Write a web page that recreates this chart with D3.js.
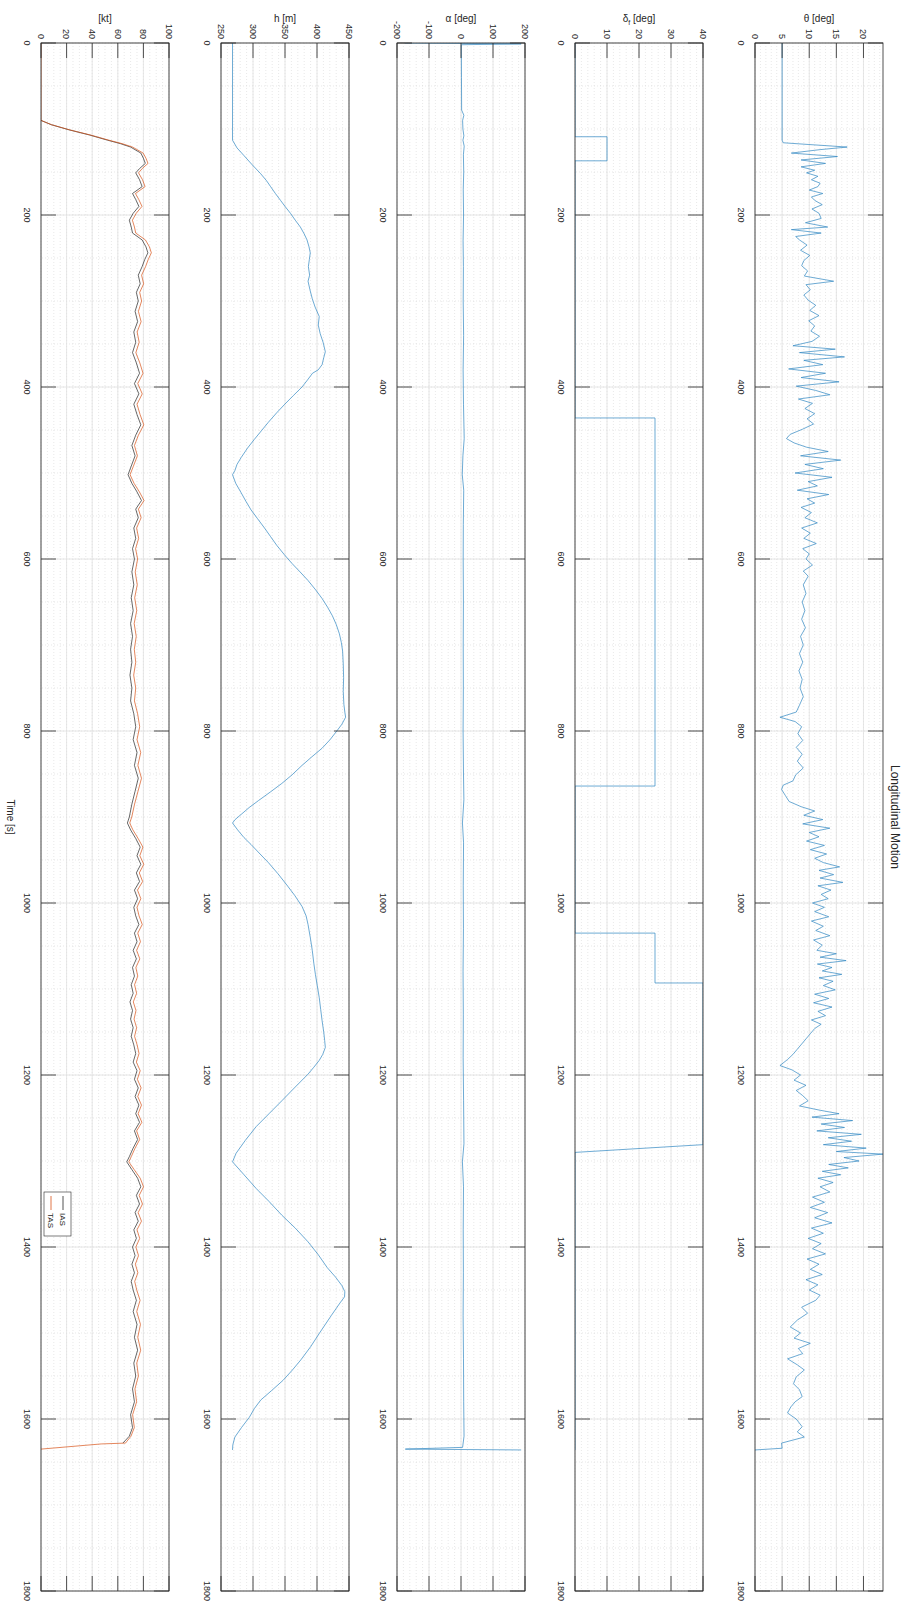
<!DOCTYPE html>
<html>
<head>
<meta charset="utf-8">
<script src="https://cdnjs.cloudflare.com/ajax/libs/d3/7.8.5/d3.min.js"></script>
<style>
  body { margin: 0; background: #fff; }
  svg text { font-family: "Liberation Sans", Arial, sans-serif; fill: #262626; }
</style>
</head>
<body>
<svg id="fig" width="906" height="1604"></svg>
<script>
// ---- time axis ----
const timeDomain = [0, 1800];
const timeTicks = [0, 200, 400, 600, 800, 1000, 1200, 1400, 1600, 1800];

// ---- pitch angle theta [deg]: [time s, value] ----
const thetaSamples = [
  [0,5],[113,5],[116,5.2],[118,9.8],[121,17],[124,12],[128,6.7],[132,15.2],[136,8.5],[140,13],
  [144,8.5],[148,11],[151,9.5],[155,11.6],[159,10.4],[163,12],[167,11.6],[171,10],[175,12.5],[179,10.4],
  [183,11],[188,12.4],[193,10.5],[198,11.8],[204,12.2],[209,9.3],[214,13.4],[217,6.7],[221,12.2],[225,7.5],
  [229,8.2],[235,9.6],[241,8.4],[247,10.1],[253,9],[259,8.6],[265,9.7],[271,9.1],[277,14.5],[281,9.4],
  [287,10.2],[293,9],[299,9.8],[305,11.2],[311,10.1],[317,11.8],[323,9.9],[329,11],[335,10.3],[341,11.9],
  [347,10.5],[352,7],[356,14.8],[360,8.2],[365,16.5],[369,9],[374,12.5],[379,6.2],[384,13],[389,8.5],
  [394,15.5],[399,7.6],[404,11.2],[409,13.8],[414,8],[419,10.6],[425,9.2],[431,11],[437,9.6],[443,10.8],
  [449,8.8],[455,6.5],[460,5.8],[465,7.2],[470,9.5],[475,13.5],[480,8.4],[485,15.8],[490,9.2],[495,12.6],
  [500,7.4],[505,14.2],[510,9.8],[515,11.5],[520,7.8],[525,13.6],[530,9.6],[535,11],[540,8.5],[546,10.4],
  [552,9.2],[558,11.5],[564,8.6],[570,10.2],[576,9],[582,11.3],[588,8.8],[594,10],[600,9.4],[607,10.6],
  [614,8.9],[620,9.8],[630,8.9],[640,9.4],[650,8.7],[660,9.2],[670,8.6],[680,9.3],[690,8.4],[700,8.9],
  [710,8.2],[720,8.8],[730,8.1],[740,8.7],[750,8.3],[760,8.9],[770,8.2],[778,7.6],[784,4.6],[789,7.4],
  [795,8.6],[803,7.9],[811,8.8],[819,7.6],[827,8.7],[835,7.8],[843,8.9],[851,7.5],[858,7],[863,5.2],
  [868,4.9],[875,5.6],[882,6.3],[888,8.5],[893,11],[898,9],[903,12.5],[908,8.8],[913,13.8],[918,10],
  [923,11.8],[928,9.5],[933,12.8],[938,10.2],[943,13.2],[948,11],[953,12.6],[958,15.6],[962,11.8],[967,14.5],
  [971,12],[976,16.2],[980,11.6],[985,14],[990,12.2],[995,13.5],[1000,10.6],[1005,12.8],[1010,11],[1016,13.6],
  [1021,10.4],[1027,12.6],[1032,11.2],[1038,13.8],[1043,10.8],[1049,12.4],[1055,11.4],[1059,15],[1063,12],[1067,16.8],
  [1071,11.5],[1075,14.2],[1079,12.4],[1083,16],[1087,11.8],[1091,14.4],[1096,12.6],[1101,14.8],[1106,11],[1111,13.6],
  [1116,10.8],[1121,14.2],[1126,11.6],[1131,13],[1136,10.4],[1141,12.2],[1146,11],[1152,10.2],[1158,9.4],[1164,8.6],
  [1170,7.8],[1176,7],[1182,6],[1189,4.6],[1194,6.8],[1200,8.4],[1206,7.2],[1212,9.4],[1218,7.6],[1224,8.8],
  [1230,9.8],[1236,8.2],[1241,12],[1245,15.5],[1249,10.5],[1253,18],[1257,12.2],[1261,16.5],[1265,11.4],[1269,19.6],
  [1273,13.5],[1277,17.8],[1281,12.6],[1285,20.5],[1289,15],[1292,23.6],[1296,16.4],[1300,19.2],[1304,13.6],[1308,17.2],
  [1312,12.4],[1316,15.8],[1320,11.6],[1325,14.4],[1330,12],[1336,13.8],[1342,10.6],[1348,12.8],[1354,10.2],[1360,13.4],
  [1366,11],[1372,14.2],[1378,10.4],[1384,12.6],[1390,9.8],[1396,12.2],[1402,10.6],[1408,13],[1414,9.6],[1420,11.8],
  [1426,10.2],[1432,12.4],[1438,9.4],[1444,11.6],[1450,10],[1456,12],[1462,11.2],[1470,8.6],[1477,9.7],[1485,7.8],
  [1493,6.5],[1500,8.4],[1506,7.2],[1512,10.2],[1518,8],[1524,8.8],[1530,6],[1537,7.8],[1543,9.1],[1551,7.6],
  [1559,7.1],[1566,8.2],[1574,8.7],[1580,7.4],[1586,6.6],[1593,6],[1600,7.6],[1609,8.7],[1615,7.8],[1621,9.1],
  [1628,4.9],[1634,5],[1636,0]
];

// ---- flap deflection delta_f [deg] ----
const flapSamples = [
  [0,0],[109,0],[109,10],[137,10],[137,0],[436,0],[436,25],[864,25],[864,0],
  [1035,0],[1035,25],[1093,25],[1093,40],[1281,40],[1290,0],[1636,0]
];

// ---- angle of attack alpha [deg] ----
const alphaSamples = [
  [0,-176],[1,188],[2,1],[40,1.5],[78,2],[84,9],[90,5],[100,6],[108,9],[113,6],[120,10],[130,7.5],
  [150,8.5],[170,7],[200,8],[230,6.5],[260,7.5],[300,6.8],[340,8.2],[380,6.6],[420,7.8],[460,10],
  [480,6],[502,4],[520,8.5],[560,7.2],[600,6.8],[650,7.5],[700,6.9],[750,7.3],[800,6.5],[850,7.8],
  [880,9],[907,4.5],[930,8],[980,7],[1030,7.6],[1080,6.4],[1130,7.2],[1180,6.7],[1230,8.1],[1280,9.2],
  [1301,4.4],[1330,7.8],[1380,6.9],[1430,7.4],[1480,6.6],[1530,7.8],[1580,8.4],[1620,9.5],[1633,5],
  [1635,-174],[1636,188]
];

// ---- altitude h [m] ----
const altSamples = [
  [0,268],[113,268],[122,275],[131,286],[141,298],[152,312],[160,321],[167,327.5],[175,335],[183,343],
  [190,350],[198,358.5],[206,366],[214,374],[222,380],[229,384.4],[237,387.5],[244,389.5],[252,388],[260,386.5],
  [270,388.5],[277,386],[287,389],[297,392.5],[307,397],[318,403.5],[328,402],[338,405],[348,409.5],[359,413],
  [366,410.5],[374,408],[380,402],[384,393],[392,385],[400,376.6],[410,363],[420,349.7],[430,337],[441,324],
  [451,313],[461,302],[471,291.5],[482,281.5],[490,275],[497,271.8],[502,268],[512,273],[523,281.5],[533,289],
  [543,297],[553,307],[564,318],[574,327.5],[584,337],[595,349],[605,360.7],[615,373.5],[625,386],[636,398],
  [646,408],[656,416.5],[666,424],[676,430],[687,435],[697,438],[707,440],[722,441],[738,441.6],[754,441],
  [769,442],[778,443.5],[784,444.7],[792,439],[799,432],[810,420.5],[820,408],[830,392],[840,376.6],[851,361],
  [861,345],[871,327],[881,308.4],[889,294],[897,281.5],[903,272],[907,268],[915,276],[924,286],[932,297],
  [943,311],[953,324],[966,339],[979,352.8],[991,365],[1004,376.6],[1015,383],[1025,386],[1040,389.5],[1055,392.6],
  [1070,395],[1083,397.5],[1096,400.4],[1110,403.5],[1124,405.8],[1137,408],[1150,410.5],[1160,412],[1168,413],[1176,409],
  [1183,403.5],[1191,395],[1199,386],[1214,366],[1230,345],[1245,325],[1260,305],[1276,288],[1291,273.6],[1301,268],
  [1316,286],[1332,305],[1347,325],[1363,345],[1378,366],[1394,386],[1409,402],[1424,416],[1435,429],[1445,439],
  [1452,443.5],[1458,443],[1465,436],[1480,422],[1500,404],[1516,390],[1531,375],[1543,361.6],[1555,347],[1567,329],
  [1578,312],[1588,302],[1598,294.3],[1610,282],[1621,271.7],[1630,268.5],[1636,268]
];

// ---- airspeed [kt] ----
const iasSamples = [
  [90,0],[95,8],[101,22],[107,38],[113,52],[117,62],[121,70],[128,78],[134,80],[140,81.5],
  [146,77],[151,74],[159,77],[167,79],[175,71.5],[182,74],[190,76.5],[198,72],[206,69],[214,70.5],
  [221,71.5],[229,79],[237,82],[244,83.5],[252,81],[260,79],[270,76],[280,77.5],[290,74.5],[300,76],
  [312,73.5],[324,75.5],[336,72.5],[348,74],[360,71.5],[372,74.5],[384,77],[396,73],[408,76.5],[420,72.5],
  [432,75],[444,78],[456,74],[468,71],[480,73.5],[492,70.5],[502,68],[512,71],[522,75],[532,78.5],
  [542,74],[552,76],[564,72.5],[576,74],[588,71.5],[600,73],[615,71],[630,72.5],[645,70.5],[660,72],
  [675,70],[690,71.5],[705,70],[720,71],[735,69.5],[750,71],[765,70],[780,72.5],[795,74],[810,72],
  [825,75],[840,73],[855,76],[870,73.5],[885,71],[900,69],[907,67.5],[915,70],[925,74],[935,77.5],
  [945,75],[955,78],[965,74.5],[975,77],[985,73],[995,75.5],[1005,72.5],[1015,74],[1025,76.5],[1035,73],
  [1045,75],[1055,72],[1065,74.5],[1075,71.5],[1085,73],[1095,70.5],[1105,72],[1115,69.5],[1125,71.5],[1135,70],
  [1145,72],[1155,70.5],[1165,72.5],[1175,74],[1185,72],[1195,75],[1205,73],[1215,76],[1225,73.5],[1235,76.5],
  [1245,74],[1255,77],[1265,73],[1275,75.5],[1285,72],[1295,69],[1301,67],[1310,71],[1320,75.5],[1330,78],
  [1340,74.5],[1350,77],[1360,73.5],[1370,76],[1380,72.5],[1390,74.5],[1400,71.5],[1410,73.5],[1420,71],[1430,73],
  [1440,70.5],[1450,72],[1462,74.5],[1475,72],[1490,75],[1505,73],[1520,75.5],[1535,72.5],[1550,74],[1565,71.5],
  [1580,73],[1595,70],[1610,71.5],[1620,69],[1628,64]
];
const tasSamples = [
  [0,0],[90,0],[95,8.2],[101,22.4],[107,38.7],[113,53],[117,63.3],[121,71.5],[128,79.8],[134,82],[140,83.6],
  [146,79.1],[151,76.2],[159,79.3],[167,81.3],[175,73.8],[182,76.4],[190,78.9],[198,74.4],[206,71.4],[214,73],
  [221,74],[229,81.6],[237,84.7],[244,86.2],[252,83.7],[260,81.7],[270,78.6],[280,80.2],[290,77.1],[300,78.6],
  [312,76.1],[324,78.2],[336,75.1],[348,76.7],[360,74.1],[372,77.2],[384,79.7],[396,75.6],[408,79.1],[420,75],
  [432,77.4],[444,80.3],[456,76.1],[468,73],[480,75.3],[492,72.2],[502,69.6],[512,72.7],[522,76.9],[532,80.5],
  [542,76.1],[552,78.2],[564,74.7],[576,76.3],[588,73.9],[600,75.5],[615,73.6],[630,75.2],[645,73.2],[660,74.8],
  [675,72.8],[690,74.4],[705,72.9],[720,74],[735,72.4],[750,74],[765,73],[780,75.5],[795,77.1],[810,75],
  [825,77.9],[840,75.7],[855,78.5],[870,75.8],[885,73.1],[900,70.9],[907,69.3],[915,71.8],[925,75.9],[935,79.6],
  [945,77.2],[955,80.3],[965,76.8],[975,79.4],[985,75.4],[995,78],[1005,75],[1015,76.6],[1025,79.1],[1035,75.6],
  [1045,77.7],[1055,74.7],[1065,77.2],[1075,74.1],[1085,75.6],[1095,73.1],[1105,74.7],[1115,72.1],[1125,74.2],[1135,72.7],
  [1145,74.7],[1155,73.1],[1165,75.1],[1175,76.6],[1185,74.5],[1195,77.5],[1205,75.3],[1215,78.2],[1225,75.6],[1235,78.5],
  [1245,75.9],[1255,78.8],[1265,74.7],[1275,77.1],[1285,73.5],[1295,70.5],[1301,68.6],[1310,72.8],[1320,77.5],[1330,80.1],
  [1340,76.7],[1350,79.3],[1360,75.9],[1370,78.5],[1380,75],[1390,77.1],[1400,74.1],[1410,76.2],[1420,73.7],[1430,75.7],
  [1440,73.2],[1450,74.8],[1462,77.4],[1475,74.8],[1490,77.7],[1505,75.6],[1520,77.9],[1535,74.8],[1550,76.1],[1565,73.4],
  [1580,74.7],[1595,71.6],[1610,72.9],[1620,70.3],[1628,66],[1629,47],[1635,0]
];

// ---- figure geometry (unrotated frame: time runs along X) ----
const H = 906;
const plotX0 = 43, plotX1 = 1591;
const panelTop = [23, 203, 381, 557, 737];
const panelH = 128;
const tickLen = 15;

const svg = d3.select("#fig");
const fig = svg.append("g").attr("transform", `translate(${H},0) rotate(90)`);

const x = d3.scaleLinear().domain(timeDomain).range([plotX0, plotX1]);
const blue = "#2f86c2";

const panels = [
  { label: ["θ", "", " [deg]"], domain: [0, 23.6], ticks: [0, 5, 10, 15, 20], minorStep: 1,
    series: [{ data: thetaSamples, color: blue }] },
  { label: ["δ", "f", " [deg]"], domain: [0, 40], ticks: [0, 10, 20, 30, 40], minorStep: 2,
    series: [{ data: flapSamples, color: blue }] },
  { label: ["α", "", " [deg]"], domain: [-200, 200], ticks: [-200, -100, 0, 100, 200], minorStep: 20,
    series: [{ data: alphaSamples, color: blue }] },
  { label: ["h", "", " [m]"], domain: [250, 450], ticks: [250, 300, 350, 400, 450], minorStep: 10,
    series: [{ data: altSamples, color: blue }] },
  { label: ["", "", "[kt]"], domain: [0, 100], ticks: [0, 20, 40, 60, 80, 100], minorStep: 5,
    series: [{ data: iasSamples, color: "#262626", name: "IAS" },
             { data: tasSamples, color: "#d95319", name: "TAS" }] }
];

const timeMinor = d3.range(0, 1801, 50);

panels.forEach((p, i) => {
  const top = panelTop[i], bottom = top + panelH;
  const y = d3.scaleLinear().domain(p.domain).range([bottom, top]);
  const g = fig.append("g");
  const clipId = "clip" + i;
  g.append("clipPath").attr("id", clipId).append("rect")
    .attr("x", plotX0).attr("y", top).attr("width", plotX1 - plotX0).attr("height", panelH);

  const minor = d3.range(p.domain[0], p.domain[1] + 1e-9, p.minorStep);
  // minor grid
  g.append("g").selectAll("line").data(timeMinor).join("line")
    .attr("x1", d => x(d)).attr("x2", d => x(d)).attr("y1", top).attr("y2", bottom)
    .attr("stroke", "#d9d9d9").attr("stroke-width", 0.6).attr("stroke-dasharray", "1,2");
  g.append("g").selectAll("line").data(minor).join("line")
    .attr("x1", plotX0).attr("x2", plotX1).attr("y1", d => y(d)).attr("y2", d => y(d))
    .attr("stroke", "#d9d9d9").attr("stroke-width", 0.6).attr("stroke-dasharray", "1,2");
  // major grid
  g.append("g").selectAll("line").data(timeTicks).join("line")
    .attr("x1", d => x(d)).attr("x2", d => x(d)).attr("y1", top).attr("y2", bottom)
    .attr("stroke", "#e0e0e0").attr("stroke-width", 0.8);
  g.append("g").selectAll("line").data(p.ticks).join("line")
    .attr("x1", plotX0).attr("x2", plotX1).attr("y1", d => y(d)).attr("y2", d => y(d))
    .attr("stroke", "#e0e0e0").attr("stroke-width", 0.8);

  // data
  const line = d3.line().x(d => x(d[0])).y(d => y(d[1]));
  p.series.forEach(s => {
    g.append("path").attr("clip-path", `url(#${clipId})`)
      .datum(s.data)
      .attr("d", line).attr("fill", "none").attr("stroke", s.color)
      .attr("stroke-width", 0.7).attr("stroke-linejoin", "round");
  });

  // box
  g.append("rect").attr("x", plotX0).attr("y", top).attr("width", plotX1 - plotX0).attr("height", panelH)
    .attr("fill", "none").attr("stroke", "#262626").attr("stroke-width", 0.8);

  // ticks (inward, same length on both axes)
  const tk = g.append("g").attr("stroke", "#262626").attr("stroke-width", 0.8);
  timeTicks.forEach(t => {
    tk.append("line").attr("x1", x(t)).attr("x2", x(t)).attr("y1", bottom).attr("y2", bottom - tickLen);
    tk.append("line").attr("x1", x(t)).attr("x2", x(t)).attr("y1", top).attr("y2", top + tickLen);
  });
  p.ticks.forEach(v => {
    tk.append("line").attr("x1", plotX0).attr("x2", plotX0 + tickLen).attr("y1", y(v)).attr("y2", y(v));
    tk.append("line").attr("x1", plotX1).attr("x2", plotX1 - tickLen).attr("y1", y(v)).attr("y2", y(v));
  });

  // tick labels
  g.append("g").selectAll("text").data(p.ticks).join("text")
    .attr("x", plotX0 - 4).attr("y", d => y(d)).attr("dy", "0.35em")
    .attr("text-anchor", "end").attr("font-size", 9).text(d => d);
  g.append("g").selectAll("text").data(timeTicks).join("text")
    .attr("x", d => x(d)).attr("y", bottom + 17)
    .attr("text-anchor", "middle").attr("font-size", 9).text(d => d);

  // y label
  const yl = g.append("text")
    .attr("transform", `translate(${plotX0 - 21},${(top + bottom) / 2}) rotate(-90)`)
    .attr("text-anchor", "middle").attr("font-size", 10);
  yl.append("tspan").text(p.label[0]);
  if (p.label[1]) yl.append("tspan").attr("dy", 3).attr("font-size", 7).text(p.label[1]);
  yl.append("tspan").attr("dy", p.label[1] ? -3 : 0).text(p.label[2]);

  // legend for the airspeed panel
  if (p.series.length > 1) {
    const lx = 1192, ly = bottom - 30, lw = 44, lh = 27;
    const lg = g.append("g");
    lg.append("rect").attr("x", lx).attr("y", ly).attr("width", lw).attr("height", lh)
      .attr("fill", "#fff").attr("stroke", "#262626").attr("stroke-width", 0.6);
    p.series.forEach((s, k) => {
      const ry = ly + 8 + k * 12;
      lg.append("line").attr("x1", lx + 4).attr("x2", lx + 18).attr("y1", ry).attr("y2", ry)
        .attr("stroke", s.color).attr("stroke-width", 0.8);
      lg.append("text").attr("x", lx + 21).attr("y", ry).attr("dy", "0.35em")
        .attr("font-size", 8).text(s.name);
    });
  }
});

// time label under the last panel
fig.append("text").attr("x", (plotX0 + plotX1) / 2).attr("y", panelTop[4] + panelH + 34)
  .attr("text-anchor", "middle").attr("font-size", 10).text("Time [s]");

// title
fig.append("text").attr("x", (plotX0 + plotX1) / 2).attr("y", 15)
  .attr("text-anchor", "middle").attr("font-size", 12).text("Longitudinal Motion");
</script>
</body>
</html>
